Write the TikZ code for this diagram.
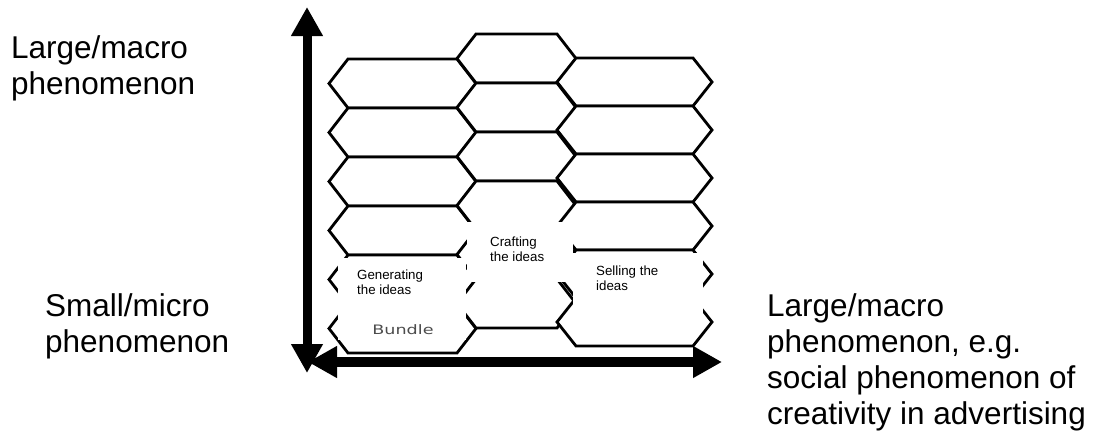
\documentclass[tikz,border=0pt]{standalone}
\usepackage{fontspec}
\setmainfont{Liberation Sans}
\newfontfamily\bundlefont{DejaVu Sans}
\usetikzlibrary{arrows.meta,positioning}

\tikzset{
  hexline/.style={line width=2.8pt, draw=black, fill=white, line join=miter},
  axisarrow/.style={line width=#1, {Triangle[length=29pt, width=30pt]}-{Triangle[length=29pt, width=30pt]}},
  whitebox/.style={fill=white, draw=none, inner sep=0pt, anchor=north west},
  boxtext/.style={inner sep=0pt, align=left, font=\fontsize{13.3}{15}\selectfont},
  sidelabel/.style={inner sep=0pt, anchor=north west, align=left, font=\fontsize{31.5}{36}\selectfont}
}

\begin{document}
\begin{tikzpicture}[x=1pt, y=-1pt]
  % page frame
  \useasboundingbox (0,0) rectangle (1105,432);

  % Honeycomb: three columns of six hexagons (left x / right x / top y / row height)
  \def\hind{19}
  \foreach \xl/\xr/\yt/\rh in {329/476/59/49, 457/576/34/49, 557/712/58/48} {
    \foreach \r in {0,...,5} {
      \pgfmathsetmacro{\ya}{\yt+\r*\rh}
      \pgfmathsetmacro{\ym}{\ya+0.5*\rh}
      \pgfmathsetmacro{\yb}{\ya+\rh}
      \draw[hexline] (\xl,\ym) -- (\xl+\hind,\ya) -- (\xr-\hind,\ya) -- (\xr,\ym)
        -- (\xr-\hind,\yb) -- (\xl+\hind,\yb) -- cycle;
    }
  }

  % White boxes laid over the lower hexagons
  \node[whitebox, minimum width=128pt, minimum height=82pt] (genbox) at (338,258) {};
  \node[whitebox, minimum width=106pt, minimum height=60pt] (craftbox) at (467,222) {};
  \node[whitebox, minimum width=130pt, minimum height=77pt] (sellbox) at (573,253) {};

  \node[boxtext, below right=12pt and 19pt of genbox.north west] (gentext) {Generating\\the ideas};
  \node[boxtext, below right=15pt and 23pt of craftbox.north west] (crafttext) {Crafting\\the ideas};
  \node[boxtext, below right=13pt and 23pt of sellbox.north west] (selltext) {Selling the\\ideas};

  % Bundle label on the bottom-left hexagon
  \node[anchor=base, inner sep=0pt, text=black!70, font=\bundlefont\fontsize{13}{15}\selectfont]
    (bundle) at (403,334) {\scalebox{1.35}[1]{Bundle}};

  % Axes
  \coordinate (ytop) at (307,7);
  \coordinate (ybot) at (307,373);
  \coordinate (xleft) at (308,362);
  \coordinate (xright) at (722,362);
  \draw[axisarrow=9pt] (ybot) -- (ytop);
  \draw[axisarrow=10pt] (xleft) -- (xright);

  % Axis labels
  \node[sidelabel] (toplabel) at (11,35) {Large/macro\\phenomenon};
  \node[sidelabel] (bottomlabel) at (45,293) {Small/micro\\phenomenon};
  \node[sidelabel] (rightlabel) at (767,293) {Large/macro\\phenomenon, e.g.\\social phenomenon of\\creativity in advertising};
\end{tikzpicture}
\end{document}
